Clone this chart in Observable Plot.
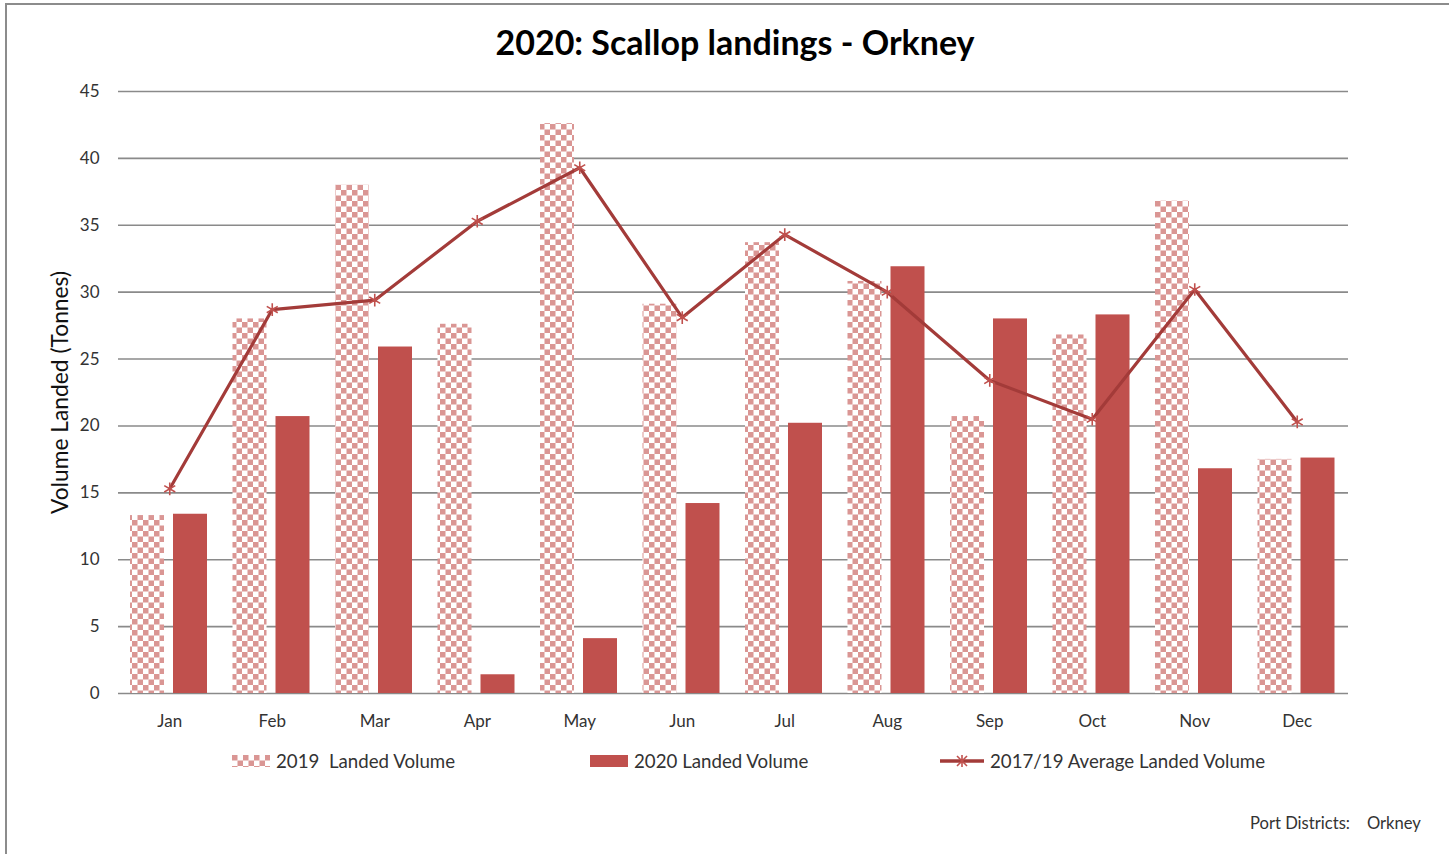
<!DOCTYPE html>
<html>
<head>
<meta charset="utf-8">
<script src="https://cdn.jsdelivr.net/npm/d3@7"></script>
<script src="https://cdn.jsdelivr.net/npm/@observablehq/plot@0.6"></script>
<style>
  html, body { margin: 0; padding: 0; background: #fff; }
  body { width: 1449px; height: 854px; position: relative; overflow: hidden; font-family: Lato, "Open Sans", sans-serif; color: #333; }
  #frame { position: absolute; left: 5px; top: 3px; width: 1470px; height: 880px; border: 2px solid #8c8c8c; box-sizing: border-box; }
  #title { position: absolute; left: 0; top: 21px; width: 1470px; text-align: center; font-weight: bold; font-size: 34px; color: #000; }
  #chart { position: absolute; left: 0; top: 80px; }
  .leg { position: absolute; top: 750px; font-size: 18.7px; color: #333; display: flex; align-items: center; white-space: pre; }
  .leg svg { margin-right: 6px; }
  #footer { position: absolute; left: 1250px; top: 813px; font-size: 16.6px; color: #333; white-space: pre; }
</style>
</head>
<body>
<div id="frame"></div>
<div id="title">2020: Scallop landings - Orkney</div>
<div id="chart"></div>
<div class="leg" style="left:232px"><svg width="38" height="12"><rect width="38" height="12" fill="url(#checkLeg)"/></svg>2019  Landed Volume</div>
<div class="leg" style="left:590px"><svg width="38" height="12"><rect width="38" height="12" fill="#C0504D"/></svg>2020 Landed Volume</div>
<div class="leg" style="left:940px"><svg width="44" height="14"><line x1="0" x2="44" y1="7" y2="7" stroke="#A33B39" stroke-width="3.5"/><g stroke="#C0504D" stroke-width="1.6"><line x1="17" y1="2" x2="27" y2="12"/><line x1="17" y1="12" x2="27" y2="2"/><line x1="22" y1="1" x2="22" y2="13"/></g></svg>2017/19 Average Landed Volume</div>
<div id="footer">Port Districts:    Orkney</div>
<svg width="0" height="0" style="position:absolute">
  <defs>
    <pattern id="checkLeg" width="11" height="11" patternUnits="userSpaceOnUse">
      <rect width="11" height="11" fill="#fff"/>
      <rect x="0" y="0" width="5.5" height="5.5" fill="#DA9694"/>
      <rect x="5.5" y="5.5" width="5.5" height="5.5" fill="#DA9694"/>
    </pattern>
  </defs>
</svg>
<script>
const months = ["Jan","Feb","Mar","Apr","May","Jun","Jul","Aug","Sep","Oct","Nov","Dec"];
const landed2019 = [13.3, 28.0, 38.0, 27.6, 42.6, 29.1, 33.7, 30.8, 20.7, 26.8, 36.8, 17.5];
const landed2020 = [13.4, 20.7, 25.9, 1.4, 4.1, 14.2, 20.2, 31.9, 28.0, 28.3, 16.8, 17.6];
const avg1719   = [15.3, 28.7, 29.4, 35.3, 39.3, 28.1, 34.3, 30.0, 23.4, 20.5, 30.2, 20.3];
const yTicks = [0, 5, 10, 15, 20, 25, 30, 35, 40, 45];
const yLabel = "Volume Landed (Tonnes)";

const rows = months.map((m, i) => ({month: m, v2019: landed2019[i], v2020: landed2020[i], avg: avg1719[i]}));

const chart = Plot.plot({
  width: 1449,
  height: 660,
  marginLeft: 118,
  marginRight: 101,
  marginTop: 11,
  marginBottom: 47,
  style: {fontFamily: "Lato, 'Open Sans', sans-serif", fontSize: "17px", color: "#333", background: "transparent"},
  x: {type: "band", domain: months, padding: 0, round: false, label: null},
  y: {domain: [0, 45], label: null},
  marks: [
    Plot.ruleY(yTicks, {stroke: "#8a8a8a", strokeWidth: 1.6}),
    Plot.barY(rows, {x: "month", y: "v2019", fill: "url(#check)", insetLeft: 12, insetRight: 56.5}),
    Plot.barY(rows, {x: "month", y: "v2020", fill: "#C0504D", insetLeft: 55, insetRight: 13.5}),
    Plot.lineY(rows, {x: "month", y: "avg", stroke: "#A33B39", strokeWidth: 3.2}),
    Plot.dot(rows, {x: "month", y: "avg", symbol: "asterisk", r: 6, stroke: "#C0504D", strokeWidth: 1.6}),
    Plot.axisY(yTicks, {tickSize: 0, tickPadding: 19, label: null, fill: "#333", fontSize: 17}),
    Plot.axisX({tickSize: 0, tickPadding: 21, label: null, fill: "#333", fontSize: 17}),
    Plot.text([yLabel], {frameAnchor: "left", textAnchor: "middle", dx: -58, rotate: -90, fontSize: 22.8, fill: "#111"})
  ]
});

const ns = "http://www.w3.org/2000/svg";
const defs = document.createElementNS(ns, "defs");
defs.innerHTML = `<pattern id="check" width="11" height="11" patternUnits="userSpaceOnUse">
  <rect width="11" height="11" fill="#fff"/>
  <rect x="0" y="0" width="5.5" height="5.5" fill="#DA9694"/>
  <rect x="5.5" y="5.5" width="5.5" height="5.5" fill="#DA9694"/>
</pattern>`;
chart.insertBefore(defs, chart.firstChild);
document.getElementById("chart").appendChild(chart);
</script>
</body>
</html>
